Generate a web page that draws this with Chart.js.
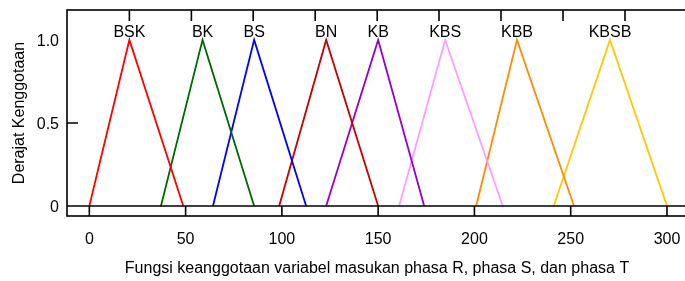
<!DOCTYPE html>
<html>
<head>
<meta charset="utf-8">
<script src="https://cdn.jsdelivr.net/npm/chart.js@4"></script>
<style>
  html, body { margin:0; padding:0; background:#fff; overflow:hidden; }
  #wrap { width:690px; height:281px; }
</style>
</head>
<body>
<div id="wrap"><canvas id="c" width="690" height="281"></canvas></div>
<script>
// membership functions (triangles): start, peak, end
const mfNames = ['BSK', 'BK', 'BS', 'BN', 'KB', 'KBS', 'KBB', 'KBSB'];
const mfStart = [0, 37.2, 64.2, 98.6, 123, 160.9, 200.9, 241.2];
const mfPeak  = [20.8, 58.8, 85.6, 123, 150, 184.8, 222.1, 270.4];
const mfEnd   = [48.8, 85.6, 112.6, 150, 173.9, 214.7, 251.7, 300];

// axis ticks
const xTickVals = [0, 50, 100, 150, 200, 250, 300];
const yTickVals = [0, 0.5, 1];
const yTickLabels = ['0', '0.5', '1.0'];
const topTickVals = [20.8, 53, 85.1, 117.3, 149.5, 181.6, 213.8, 246, 278.2];

const COLORS = ['#ff0000', '#006a00', '#0000ff', '#c80000', '#9400d3', '#ff9cff', '#ff8c00', '#ffc800'];
const FONT = { family: 'Liberation Sans, Arial, sans-serif', size: 16 };

const datasets = mfNames.map((n, i) => ({
  label: n,
  data: [{ x: mfStart[i], y: 0 }, { x: mfPeak[i], y: 1 }, { x: mfEnd[i], y: 0 }],
  borderColor: COLORS[i],
  borderWidth: 1.8,
  pointRadius: 0,
  tension: 0,
  fill: false
}));

// box, zero line, inward tick marks, MF names over peaks
const frame = {
  id: 'frame',
  afterDatasetsDraw(chart) {
    const { ctx, chartArea: a, scales: { x, y } } = chart;
    ctx.save();
    ctx.strokeStyle = '#000';
    ctx.lineWidth = 1.6;
    const y0 = y.getPixelForValue(0);
    ctx.beginPath();
    ctx.moveTo(a.left, y0); ctx.lineTo(a.right, y0);
    xTickVals.forEach(v => {
      const px = x.getPixelForValue(v);
      ctx.moveTo(px, a.bottom); ctx.lineTo(px, a.bottom - 10);
    });
    topTickVals.forEach(v => {
      const px = x.getPixelForValue(v);
      ctx.moveTo(px, a.top); ctx.lineTo(px, a.top + 11);
    });
    const yh = y.getPixelForValue(0.5);
    ctx.moveTo(a.left, yh); ctx.lineTo(a.left + 11, yh);
    ctx.stroke();
    ctx.strokeRect(a.left, a.top, a.right - a.left, a.bottom - a.top);

    ctx.fillStyle = '#000';
    ctx.font = FONT.size + 'px ' + FONT.family;
    ctx.textAlign = 'center';
    ctx.textBaseline = 'alphabetic';
    mfNames.forEach((n, i) => {
      ctx.fillText(n, x.getPixelForValue(mfPeak[i]), y.getPixelForValue(1) - 3);
    });
    ctx.restore();
  }
};

new Chart(document.getElementById('c'), {
  type: 'line',
  data: { datasets },
  options: {
    responsive: false,
    animation: false,
    devicePixelRatio: 1,
    layout: { padding: { top: 10, right: 3, left: 0, bottom: 0 } },
    plugins: { legend: { display: false }, tooltip: { enabled: false } },
    scales: {
      x: {
        type: 'linear',
        min: -11.6, max: 310.4,
        afterBuildTicks: s => { s.ticks = xTickVals.map(v => ({ value: v })); },
        afterFit: s => { s.height = 65; s.paddingLeft = 0; s.paddingRight = 0; },
        grid: { display: false, drawTicks: false },
        border: { display: false },
        ticks: { font: FONT, color: '#000', padding: 14, maxRotation: 0, autoSkip: false },
        title: {
          display: true,
          text: 'Fungsi keanggotaan variabel masukan phasa R, phasa S, dan phasa T',
          font: FONT, color: '#000',
          padding: { top: 0, bottom: 3 }
        }
      },
      y: {
        type: 'linear',
        min: -0.06, max: 1.18,
        afterBuildTicks: s => { s.ticks = yTickVals.map(v => ({ value: v })); },
        afterFit: s => { s.width = 67; s.paddingTop = 0; s.paddingBottom = 0; },
        grid: { display: false, drawTicks: false },
        border: { display: false },
        ticks: {
          font: FONT, color: '#000', padding: 8, labelOffset: 2,
          callback: v => yTickLabels[yTickVals.indexOf(v)]
        },
        title: {
          display: true,
          text: 'Derajat Kenggotaan',
          font: FONT, color: '#000',
          padding: { top: 10, bottom: 0 }
        }
      }
    }
  },
  plugins: [frame]
});
</script>
</body>
</html>
